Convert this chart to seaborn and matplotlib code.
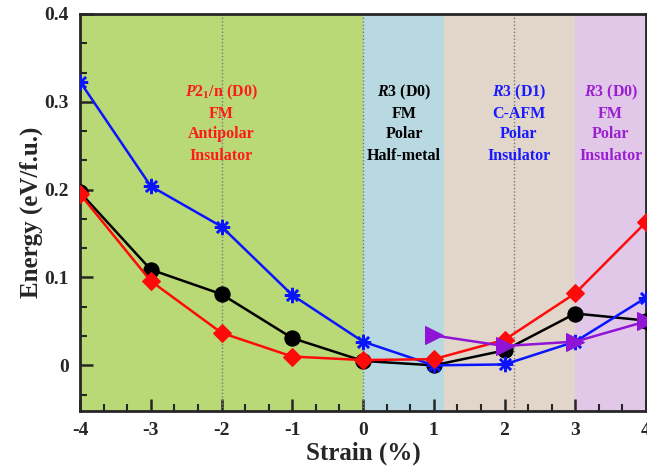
import matplotlib
matplotlib.use("Agg")
import matplotlib.pyplot as plt
import seaborn as sns
import pandas as pd
from matplotlib.ticker import MultipleLocator

# strain values (%)
strain = [-4, -3, -2, -1, 0, 1, 2, 3, 4]
strain_r3 = [1, 2, 3, 4]

# energies (eV/f.u.)
e_circle = [0.197, 0.109, 0.081, 0.031, 0.005, 0.000, 0.017, 0.059, 0.051]
e_diamond = [0.195, 0.096, 0.037, 0.010, 0.006, 0.007, 0.029, 0.082, 0.163]
e_star = [0.323, 0.204, 0.158, 0.080, 0.027, 0.000, 0.001, 0.027, 0.077]
e_triangle = [0.034, 0.022, 0.027, 0.050]

# phase regions along strain axis
region_edges = [(-4, 0), (0, 1.15), (1.15, 3), (3, 4)]
region_colors = ["#b9d977", "#b8d9e1", "#e1d6c9", "#e1c8e9"]
dotted_x = [-2, 0, 2.13]

# phase labels: x center, lines, color
labels = [
    (-2.0, ["$P$2$_1$/n (D0)", "FM", "Antipolar", "Insulator"], "#ff1a1a"),
    (0.58, ["$R$3 (D0)", "FM", "Polar", "Half-metal"], "black"),
    (2.2, ["$R$3 (D1)", "C-AFM", "Polar", "Insulator"], "#1a1aff"),
    (3.5, ["$R$3 (D0)", "FM", "Polar", "Insulator"], "#9b1fd1"),
]
label_y = [0.311, 0.286, 0.263, 0.238]

sns.set_style("ticks")
plt.rcParams["font.family"] = ["Liberation Serif", "DejaVu Serif"]
plt.rcParams["font.weight"] = "bold"
plt.rcParams["mathtext.fontset"] = "custom"
plt.rcParams["mathtext.rm"] = "Liberation Serif:bold"
plt.rcParams["mathtext.it"] = "Liberation Serif:italic:bold"
plt.rcParams["mathtext.bf"] = "Liberation Serif:bold"

fig = plt.figure(figsize=(6.47, 4.70), dpi=100)
ax = fig.add_axes([80 / 647, 59 / 470, 566 / 647, 397 / 470])

for (a, b), c in zip(region_edges, region_colors):
    ax.axvspan(a, b, color=c, lw=0, zorder=0)
for x in dotted_x:
    ax.axvline(x, color="#777777", ls=(0, (1, 1.5)), lw=1, zorder=1)

df_c = pd.DataFrame({"strain": strain, "energy": e_circle})
df_d = pd.DataFrame({"strain": strain, "energy": e_diamond})
df_s = pd.DataFrame({"strain": strain, "energy": e_star})
df_t = pd.DataFrame({"strain": strain_r3, "energy": e_triangle})

sns.lineplot(data=df_s, x="strain", y="energy", ax=ax, color="#0a14ff", lw=1.8,
             marker=(8, 2, 0), markersize=11, markeredgewidth=1.8,
             markeredgecolor="#0a14ff", zorder=4)
sns.lineplot(data=df_c, x="strain", y="energy", ax=ax, color="black", lw=1.8,
             marker="o", markersize=11, markeredgecolor="black", zorder=3)
sns.lineplot(data=df_d, x="strain", y="energy", ax=ax, color="#ff0a0a", lw=1.8,
             marker="D", markersize=9, markeredgecolor="#ff0a0a", zorder=5)
sns.lineplot(data=df_t, x="strain", y="energy", ax=ax, color="#8f14d6", lw=1.8,
             marker=">", markersize=13, markeredgecolor="#8f14d6", zorder=6)

for xc, lines, col in labels:
    for y, t in zip(label_y, lines):
        ax.text(xc, y, t, color=col, ha="center", va="center", fontsize=11.5,
                fontweight="bold")

ax.set_xlim(-4, 4)
ax.set_ylim(-0.052, 0.4)
ax.xaxis.set_minor_locator(MultipleLocator(1 / 3))
ax.yaxis.set_minor_locator(MultipleLocator(0.1 / 3))
ax.set_yticks([0, 0.1, 0.2, 0.3, 0.4])
ax.set_yticklabels(["0", "0.1", "0.2", "0.3", "0.4"])
ax.set_xticks(strain)
ax.set_xticklabels([str(s) for s in strain])

ax.tick_params(which="major", direction="in", length=9, width=1.8,
               labelsize=14, pad=8)
ax.tick_params(which="minor", direction="in", length=5, width=1.5)
ax.tick_params(top=False, right=False, which="both")
for sp in ax.spines.values():
    sp.set_linewidth(2)
    sp.set_visible(True)

ax.set_xlabel("Strain (%)", fontsize=18, fontweight="bold", labelpad=2)
ax.set_ylabel("Energy (eV/f.u.)", fontsize=18, fontweight="bold", labelpad=1)

fig.savefig("out.png", dpi=100)
